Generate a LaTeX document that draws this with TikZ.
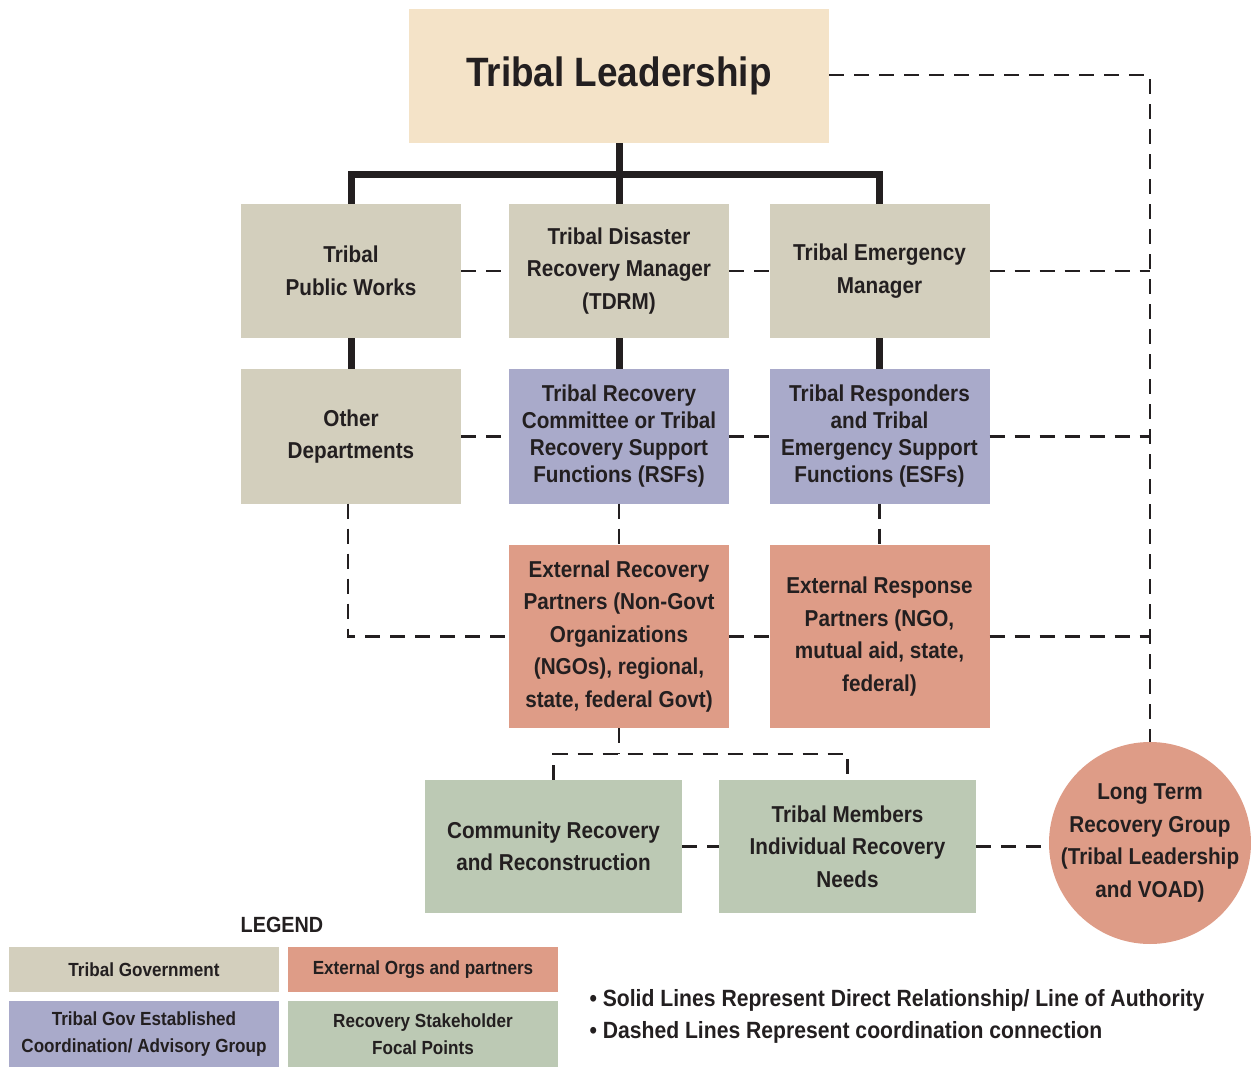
\documentclass[tikz,border=0pt]{standalone}
\usepackage{fontspec}
\setmainfont{Liberation Sans}[FakeStretch=0.9]
\usepackage{xcolor}
\usetikzlibrary{shapes, positioning, calc}

\definecolor{leadfill}{HTML}{F4E3C8}
\definecolor{govfill}{HTML}{D3CFBD}
\definecolor{advfill}{HTML}{A9AACA}
\definecolor{extfill}{HTML}{DE9C87}
\definecolor{stakefill}{HTML}{BCC9B4}
\definecolor{ink}{HTML}{231F20}

\begin{document}
\begin{tikzpicture}[
    x=1pt, y=-1pt,
    every node/.style={font=\bfseries\fontsize{23}{32.5}\selectfont, text=ink, align=center},
    box/.style={rectangle, inner sep=0pt, minimum width=220pt, minimum height=134pt},
    gov/.style={box, fill=govfill},
    adv/.style={box, fill=advfill, font=\bfseries\fontsize{23}{27}\selectfont},
    ext/.style={box, fill=extfill, minimum height=183pt},
    stake/.style={box, fill=stakefill, minimum width=257pt, minimum height=133pt},
    legbox/.style={rectangle, inner sep=0pt, minimum width=270pt, font=\bfseries\fontsize{19}{27}\selectfont},
    authority/.style={line width=7pt, draw=ink},
    coord/.style={line width=2.5pt, draw=ink, dash pattern=on 15pt off 10pt}
]
\useasboundingbox (0,0) rectangle (1251,1067);

% Top
\node[box, fill=leadfill, minimum width=420pt, font=\bfseries\fontsize{41}{48}\selectfont] (lead) at (619, 76) {Tribal Leadership};

% Row 1
\node[gov] (pubworks) at (351, 271) {Tribal\\Public Works};
\node[gov] (tdrm) at (619, 271) {Tribal Disaster\\Recovery Manager\\(TDRM)};
\node[gov] (tem) at (879.5, 271) {Tribal Emergency\\Manager};

% Row 2
\node[gov] (otherdept) at (351, 436.5) {Other\\Departments};
\node[adv] (rsf) at (619, 436.5) {Tribal Recovery\\Committee or Tribal\\Recovery Support\\Functions (RSFs)};
\node[adv] (esf) at (879.5, 436.5) {Tribal Responders\\and Tribal\\Emergency Support\\Functions (ESFs)};

% Row 3
\node[ext] (extrec) at (619, 636.5) {External Recovery\\Partners (Non-Govt\\Organizations\\(NGOs), regional,\\state, federal Govt)};
\node[ext] (extresp) at (879.5, 636.5) {External Response\\Partners (NGO,\\mutual aid, state,\\federal)};

% Row 4
\node[stake] (community) at (553.5, 846.5) {Community Recovery\\and Reconstruction};
\node[stake] (members) at (847.5, 846.5) {Tribal Members\\Individual Recovery\\Needs};
\node[circle, fill=extfill, inner sep=0pt, minimum size=202pt] (ltrg) at (1150, 843) {};
\node (ltrgtext) at (ltrg.center) {Long Term\\Recovery Group\\(Tribal Leadership\\and VOAD)};

% Solid lines
\coordinate (tbus) at (619, 175);
\draw[authority] (lead.south) -- (tdrm.north);
\draw[authority] (pubworks.north) |- (tbus) -| (tem.north);
\draw[authority] (pubworks) -- (otherdept);
\draw[authority] (tdrm) -- (rsf);
\draw[authority] (tem) -- (esf);

% Dashed lines
\coordinate (rtop) at (1150, 75);
\draw[coord] (lead.east |- rtop) -- (rtop) -- (ltrg.north);
\draw[coord] (pubworks.east) -- (tdrm.west);
\draw[coord] (tdrm.east) -- (tem.west);
\draw[coord] (tem.east) -- (tem.east -| rtop);
\draw[coord] (otherdept.east) -- (rsf.west);
\draw[coord] (rsf.east) -- (esf.west);
\draw[coord] (esf.east) -- (esf.east -| rtop);
\draw[coord] ([xshift=-3pt]otherdept.south) |- (extrec.west);
\draw[coord] (extrec.east) -- (extresp.west);
\draw[coord] (extresp.east) -- (extresp.east -| rtop);
\draw[coord] (rsf.south) -- (extrec.north);
\draw[coord] (esf.south) -- (extresp.north);
\coordinate (lbus) at (619, 754);
\draw[coord] (extrec.south) -- (lbus);
\draw[coord] (community.north) |- (lbus) -| (members.north);
\draw[coord] (community.east) -- (members.west);
\draw[coord] (members.east) -- (members.east -| ltrg.west);

% Legend
\node[font=\bfseries\fontsize{22}{26}\selectfont] (legtitle) at (282, 925) {LEGEND};
\node[legbox, fill=govfill, minimum height=45pt] (leggov) at (144, 969.5) {Tribal Government};
\node[legbox, fill=extfill, minimum height=45pt] (legext) at (423, 969.5) {External Orgs and partners};
\node[legbox, fill=advfill, minimum height=66pt] (legadv) at (144, 1034) {Tribal Gov Established\\Coordination/ Advisory Group};
\node[legbox, fill=stakefill, minimum height=66pt] (legstake) at (423, 1034) {Recovery Stakeholder\\Focal Points};

\node[anchor=west, align=left, font=\bfseries\fontsize{23.5}{32}\selectfont] (notes) at (586, 1016) {\textbullet\ Solid Lines Represent Direct Relationship/ Line of Authority\\\textbullet\ Dashed Lines Represent coordination connection};

\end{tikzpicture}
\end{document}
